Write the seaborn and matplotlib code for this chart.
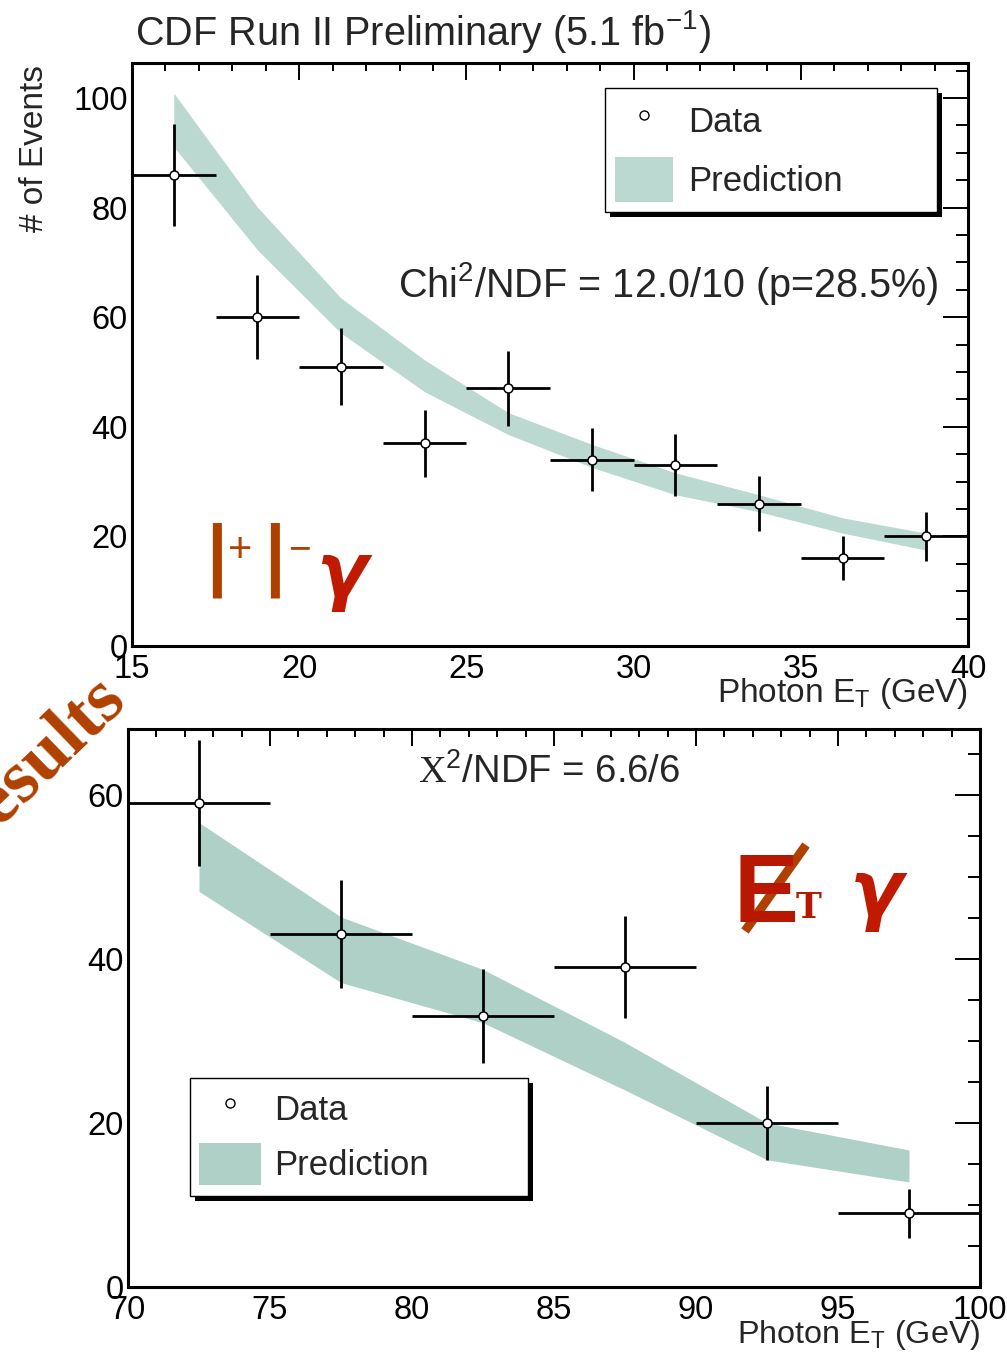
import matplotlib
matplotlib.use("Agg")
import matplotlib.pyplot as plt
import seaborn as sns
import pandas as pd
from matplotlib.lines import Line2D
from matplotlib.patches import Patch, Rectangle
from matplotlib.ticker import MultipleLocator

# ---------------- data ----------------
# top panel: l+l-gamma, photon ET 15-40 GeV, 2.5 GeV bins
top_centers = [16.25, 18.75, 21.25, 23.75, 26.25, 28.75, 31.25, 33.75, 36.25, 38.75]
top_halfwidth = 1.25
top_counts = [86, 60, 51, 37, 47, 34, 33, 26, 16, 20]
top_errors = [9.3, 7.7, 7.1, 6.1, 6.9, 5.8, 5.7, 5.1, 4.0, 4.5]
top_pred_hi = [100.9, 80.1, 63.5, 52.2, 42.6, 36.8, 31.6, 27.6, 23.4, 20.6]
top_pred_lo = [91.1, 72.3, 57.1, 46.4, 38.6, 32.6, 27.6, 24.5, 20.6, 17.5]

# bottom panel: MET gamma, photon ET 70-100 GeV, 5 GeV bins
bot_centers = [72.5, 77.5, 82.5, 87.5, 92.5, 97.5]
bot_halfwidth = 2.5
bot_counts = [59, 43, 33, 39, 20, 9]
bot_errors = [7.7, 6.6, 5.7, 6.2, 4.5, 3.0]
bot_pred_hi = [56.6, 45.1, 38.7, 29.8, 20.0, 16.7]
bot_pred_lo = [48.2, 37.1, 32.2, 24.0, 15.5, 12.8]

legend_labels = ["Data", "Prediction"]
title_text = "CDF Run II Preliminary (5.1 fb$^{-1}$)"
xlabel_text = "Photon E$_{\\mathrm{T}}$ (GeV)"
ylabel_text = "# of Events"
chi_top_text = "Chi$^{2}$/NDF = 12.0/10 (p=28.5%)"
chi_bot_text = "$\\mathcal{X}^{2}$/NDF = 6.6/6"

# ---------------- style ----------------
sns.set_style("white")
plt.rcParams["font.family"] = ["Liberation Sans", "DejaVu Sans"]
plt.rcParams["mathtext.fontset"] = "custom"
plt.rcParams["mathtext.rm"] = "Liberation Sans"
plt.rcParams["mathtext.it"] = "Liberation Sans:italic"
plt.rcParams["mathtext.bf"] = "Liberation Sans:bold"
plt.rcParams["mathtext.cal"] = "Liberation Serif"

W, H = 1007, 1353
fig = plt.figure(figsize=(W / 100, H / 100), dpi=100)
fig.patch.set_facecolor("white")


def fpx(x, y):
    return x / W, 1 - y / H


def axes_px(l, t, r, b):
    return fig.add_axes([l / W, 1 - b / H, (r - l) / W, (b - t) / H])


ax1 = axes_px(132, 63, 968, 646)
ax2 = axes_px(128, 729, 980, 1287)


def draw_panel(ax, centers, halfw, counts, errs, lo, hi, color, xlim, ylim, xpad):
    ax.fill_between(centers, lo, hi, color=color, lw=0, zorder=1)
    ax.errorbar(centers, counts, xerr=halfw, yerr=errs, fmt="none",
                ecolor="black", elinewidth=2.0, capsize=0, zorder=3)
    df = pd.DataFrame({"x": centers, "y": counts})
    sns.scatterplot(data=df, x="x", y="y", ax=ax, marker="o", s=42,
                    facecolor="white", edgecolor="black", linewidth=1.1,
                    zorder=4, legend=False)
    ax.set_xlim(*xlim)
    ax.set_ylim(*ylim)
    ax.set_xlabel("")
    ax.set_ylabel("")
    ax.xaxis.set_major_locator(MultipleLocator(5))
    ax.xaxis.set_minor_locator(MultipleLocator(1))
    ax.yaxis.set_major_locator(MultipleLocator(20))
    ax.yaxis.set_minor_locator(MultipleLocator(5))
    for s in ax.spines.values():
        s.set_visible(True)
        s.set_linewidth(2.2)
        s.set_color("black")
    ax.tick_params(axis="both", which="both", direction="in", top=True,
                   right=True, labelsize=23.5, width=1.4, colors="black")
    ax.tick_params(axis="x", which="major", length=12, pad=xpad)
    ax.tick_params(axis="x", which="minor", length=6)
    ax.tick_params(axis="y", which="major", length=18, pad=3)
    ax.tick_params(axis="y", which="minor", length=9)
    ax.set_facecolor("white")


top_color = "#bcd9d1"
bot_color = "#afd0c6"
draw_panel(ax1, top_centers, top_halfwidth, top_counts, top_errors,
           top_pred_lo, top_pred_hi, top_color, (15, 40), (0, 106.4), 6)
draw_panel(ax2, bot_centers, bot_halfwidth, bot_counts, bot_errors,
           bot_pred_lo, bot_pred_hi, bot_color, (70, 100), (0, 68.0), 6)


def px_to_axes(ax_box, x, y):
    l, t, r, b = ax_box
    return (x - l) / (r - l), (b - y) / (b - t)


def add_legend(ax, ax_box, box, color, hl, hh, pad, lspace, tpad):
    x0, ytop = px_to_axes(ax_box, box[0], box[1])
    x1, ybot = px_to_axes(ax_box, box[2], box[3])
    dx, dy = px_to_axes(ax_box, ax_box[0] + 5, ax_box[3] - 5)
    shadow = Rectangle((x0 + dx, ybot - dy), x1 - x0, ytop - ybot,
                       transform=ax.transAxes, facecolor="black",
                       edgecolor="none", zorder=5, clip_on=False)
    frame = Rectangle((x0, ybot), x1 - x0, ytop - ybot,
                      transform=ax.transAxes, facecolor="white",
                      edgecolor="black", lw=1.0, zorder=5.1, clip_on=False)
    ax.add_patch(shadow)
    ax.add_patch(frame)
    handles = [Line2D([], [], ls="none", marker="o", ms=6.5, mfc="white",
                      mec="black", mew=1.0),
               Patch(facecolor=color, edgecolor="none")]
    leg = ax.legend(handles, legend_labels, loc="upper left",
                    bbox_to_anchor=(x0, ytop), bbox_transform=ax.transAxes,
                    frameon=False, fontsize=25, handlelength=hl,
                    handleheight=hh, handletextpad=tpad, labelspacing=lspace,
                    borderpad=pad, borderaxespad=0)
    leg.set_zorder(6)


top_box = (132, 63, 968, 646)
bot_box = (128, 729, 980, 1287)
add_legend(ax1, top_box, (605, 88, 937, 212), top_color, 1.67, 1.62, 0.3, 0.4, 0.43)
add_legend(ax2, bot_box, (190, 1078, 528, 1196), bot_color, 1.79, 1.5, 0.26, 0.38, 0.37)

# axis labels
for ax, ylab, fs in ((ax1, -0.052, 24), (ax2, -0.056, 23.3)):
    ax.set_xlabel(xlabel_text, fontsize=fs, ha="right", va="top")
    ax.xaxis.set_label_coords(1.0, ylab)

ax1.text((35 - 132) / 836, (646 - 65) / 583, ylabel_text, rotation=90,
         ha="center", va="top", fontsize=24, transform=ax1.transAxes)

# title and chi2 texts
fig.text(*fpx(135, 45), title_text, fontsize=28.5, ha="left", va="baseline")
ax1.text((398 - 132) / 836, (646 - 297) / 583, chi_top_text, fontsize=28.5,
         ha="left", va="baseline", transform=ax1.transAxes)
ax2.text((418 - 128) / 852, (1287 - 783) / 558, chi_bot_text, fontsize=27.5,
         ha="left", va="baseline", transform=ax2.transAxes)

# hand-drawn style annotations
orange = "#b04000"
red = "#c01a00"
ann = dict(ha="left", va="baseline", color=orange)
fig.text(*fpx(205, 598), "l", fontsize=74, **ann)
fig.text(*fpx(228, 562), "+", fontsize=30, **ann)
fig.text(*fpx(263, 598), "l", fontsize=74, **ann)
fig.text(*fpx(288, 560), "\u2212", fontsize=28, **ann)
fig.text(*fpx(316, 596), "γ", fontsize=54, color=red, ha="left",
         va="baseline", family=["DejaVu Sans"], style="italic", weight="bold")

fig.text(*fpx(733, 922), "E", fontsize=70, color="#b81800", ha="left",
         va="baseline", weight="bold")
fig.add_artist(Line2D([745 / W, 806 / W], [1 - 931 / H, 1 - 845 / H],
                      transform=fig.transFigure, color=orange, lw=6.5,
                      solid_capstyle="butt"))
fig.text(*fpx(796, 918), "T", fontsize=25, color="#b81800", ha="left",
         va="baseline", family=["DejaVu Serif"], weight="bold")
fig.text(*fpx(850, 916), "γ", fontsize=56, color=red, ha="left",
         va="baseline", family=["DejaVu Sans"], style="italic", weight="bold")

fig.text(*fpx(128, 702), "Results", fontsize=54, color=orange, ha="right",
         va="baseline", rotation=44, rotation_mode="anchor",
         family=["Liberation Serif"], weight="bold")

fig.savefig("out.png", dpi=100, facecolor="white")
